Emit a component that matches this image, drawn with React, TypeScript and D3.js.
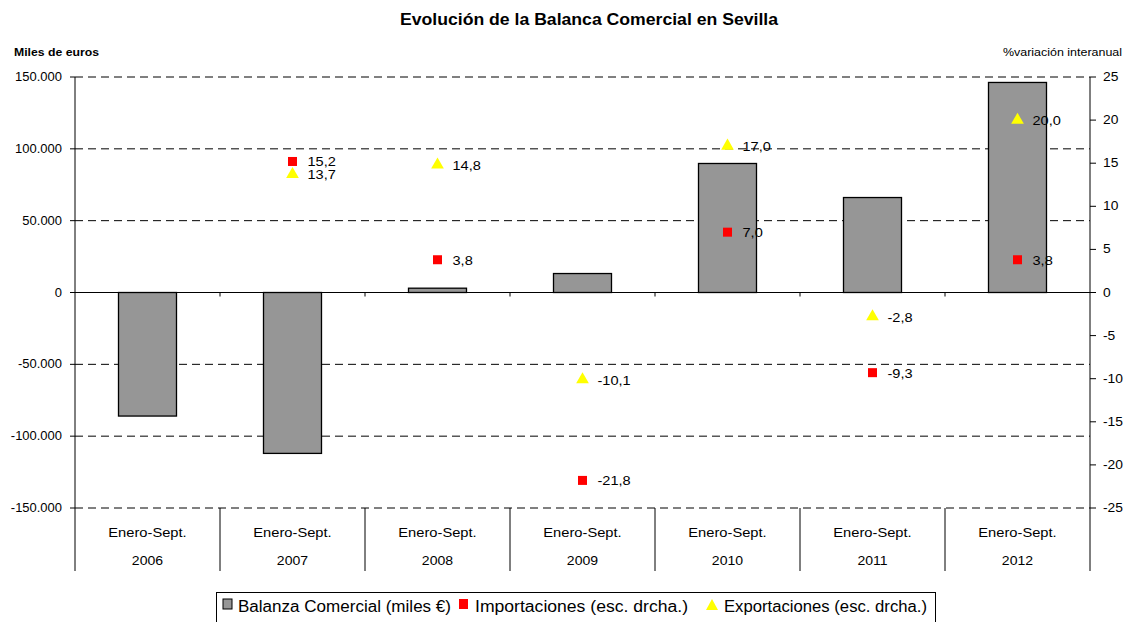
import React, { useEffect, useRef } from 'react';
import * as d3 from 'd3';

const years = ['2006', '2007', '2008', '2009', '2010', '2011', '2012'];
const balanza = [-86000, -112000, 3000, 13200, 89800, 66100, 146200];
const importaciones: (number | null)[] = [null, 15.2, 3.8, -21.8, 7.0, -9.3, 3.8];
const exportaciones: (number | null)[] = [null, 13.7, 14.8, -10.1, 17.0, -2.8, 20.0];
const leftTicks = [150000, 100000, 50000, 0, -50000, -100000, -150000];
const rightTicks = [25, 20, 15, 10, 5, 0, -5, -10, -15, -20, -25];

const fmtLeft = (v: number) => d3.format(',')(v).replace(/,/g, '.').replace('−', '-');
const fmtPct = (v: number) => v.toFixed(1).replace('.', ',');

// widen text horizontally, the reference renders its fonts stretched
const stretch = (sel: any, sx: number) => {
  sel.each(function (this: SVGTextElement) {
    const len = this.getComputedTextLength();
    d3.select(this).attr('textLength', len * sx).attr('lengthAdjust', 'spacingAndGlyphs');
  });
  return sel;
};

const App = () => {
  const svgRef = useRef<SVGSVGElement>(null);

  useEffect(() => {
    const width = 1127;
    const height = 622;
    const left = 75;
    const right = 1090;
    const top = 77;
    const bottom = 508;
    const font = '"Liberation Sans", Arial, sans-serif';

    const svg = d3.select(svgRef.current).attr('width', width).attr('height', height);
    svg.selectAll('*').remove();

    const x = d3.scaleBand().domain(years).range([left, right]);
    const yL = d3.scaleLinear().domain([-150000, 150000]).range([bottom, top]);
    const yR = d3.scaleLinear().domain([-25, 25]).range([bottom, top]);

    // title and axis titles
    svg.append('text')
      .attr('x', 589).attr('y', 25)
      .attr('text-anchor', 'middle')
      .attr('font-family', font).attr('font-size', 16).attr('font-weight', 'bold')
      .attr('textLength', 378).attr('lengthAdjust', 'spacingAndGlyphs')
      .text('Evolución de la Balanca Comercial en Sevilla');

    svg.append('text')
      .attr('x', 14).attr('y', 56)
      .attr('font-family', font).attr('font-size', 11).attr('font-weight', 'bold')
      .attr('textLength', 85).attr('lengthAdjust', 'spacingAndGlyphs')
      .text('Miles de euros');

    svg.append('text')
      .attr('x', 1122).attr('y', 56)
      .attr('text-anchor', 'end')
      .attr('font-family', font).attr('font-size', 11)
      .attr('textLength', 119).attr('lengthAdjust', 'spacingAndGlyphs')
      .text('%variación interanual');

    // gridlines
    svg.append('g')
      .selectAll('line')
      .data(leftTicks.filter(d => d !== 0))
      .enter().append('line')
      .attr('x1', left).attr('x2', right)
      .attr('y1', d => yL(d)).attr('y2', d => yL(d))
      .attr('stroke', '#000').attr('stroke-width', 1)
      .attr('stroke-dasharray', '8,5');

    // bars
    svg.append('g')
      .selectAll('rect')
      .data(balanza)
      .enter().append('rect')
      .attr('x', (d, i) => (x(years[i]) as number) + x.bandwidth() * 0.3)
      .attr('width', x.bandwidth() * 0.4)
      .attr('y', d => yL(Math.max(0, d)))
      .attr('height', d => Math.abs(yL(d) - yL(0)))
      .attr('fill', '#969696')
      .attr('stroke', '#000').attr('stroke-width', 1.3);

    // zero line
    svg.append('line')
      .attr('x1', left).attr('x2', right)
      .attr('y1', yL(0)).attr('y2', yL(0))
      .attr('stroke', '#000').attr('stroke-width', 1);

    svg.append('g')
      .selectAll('line')
      .data(years.slice(1))
      .enter().append('line')
      .attr('x1', d => x(d) as number).attr('x2', d => x(d) as number)
      .attr('y1', yL(0)).attr('y2', yL(0) + 4)
      .attr('stroke', '#000');

    // left axis
    svg.append('line')
      .attr('x1', left).attr('x2', left).attr('y1', top).attr('y2', 571)
      .attr('stroke', '#000');
    const gl = svg.append('g');
    leftTicks.forEach(t => {
      gl.append('line').attr('x1', left - 5).attr('x2', left).attr('y1', yL(t)).attr('y2', yL(t)).attr('stroke', '#000');
      stretch(gl.append('text')
        .attr('x', 62).attr('y', yL(t) + 4)
        .attr('text-anchor', 'end')
        .attr('font-family', font).attr('font-size', 12)
        .text(fmtLeft(t)), 1.08);
    });

    // right axis
    svg.append('line')
      .attr('x1', right).attr('x2', right).attr('y1', top).attr('y2', bottom)
      .attr('stroke', '#000');
    const gr = svg.append('g');
    rightTicks.forEach(t => {
      gr.append('line').attr('x1', right).attr('x2', right + 6).attr('y1', yR(t)).attr('y2', yR(t)).attr('stroke', '#000');
      stretch(gr.append('text')
        .attr('x', right + 13).attr('y', yR(t) + 4)
        .attr('font-family', font).attr('font-size', 12)
        .text(String(t)), 1.15);
    });

    // category separators
    svg.append('g')
      .selectAll('line')
      .data(years.slice(1).concat(['end']))
      .enter().append('line')
      .attr('x1', d => d === 'end' ? right : (x(d) as number))
      .attr('x2', d => d === 'end' ? right : (x(d) as number))
      .attr('y1', bottom).attr('y2', 571)
      .attr('stroke', '#000');

    const gc = svg.append('g');
    years.forEach(yv => {
      const cx = (x(yv) as number) + x.bandwidth() / 2;
      stretch(gc.append('text')
        .attr('x', cx).attr('y', 537)
        .attr('text-anchor', 'middle')
        .attr('font-family', font).attr('font-size', 13)
        .text('Enero-Sept.'), 1.13);
      stretch(gc.append('text')
        .attr('x', cx).attr('y', 565)
        .attr('text-anchor', 'middle')
        .attr('font-family', font).attr('font-size', 13)
        .text(yv), 1.08);
    });

    // importaciones markers
    const gi = svg.append('g');
    importaciones.forEach((v, i) => {
      if (v === null) return;
      const cx = (x(years[i]) as number) + x.bandwidth() / 2;
      gi.append('rect')
        .attr('x', cx - 4.5).attr('y', yR(v) - 4.5)
        .attr('width', 9).attr('height', 9)
        .attr('fill', '#ff0000');
      stretch(gi.append('text')
        .attr('x', cx + 15).attr('y', yR(v) + 5)
        .attr('font-family', font).attr('font-size', 13)
        .text(fmtPct(v)), 1.12);
    });

    // exportaciones markers
    const ge = svg.append('g');
    const tri = d3.symbol().type(d3.symbolTriangle).size(70);
    exportaciones.forEach((v, i) => {
      if (v === null) return;
      const cx = (x(years[i]) as number) + x.bandwidth() / 2;
      ge.append('path')
        .attr('d', tri() as string)
        .attr('transform', `translate(${cx},${yR(v)})`)
        .attr('fill', '#ffff00');
      stretch(ge.append('text')
        .attr('x', cx + 15).attr('y', yR(v) + 5)
        .attr('font-family', font).attr('font-size', 13)
        .text(fmtPct(v)), 1.12);
    });

    // legend
    const lg = svg.append('g');
    lg.append('rect')
      .attr('x', 216.5).attr('y', 592.5).attr('width', 719).attr('height', 40)
      .attr('fill', '#fff').attr('stroke', '#000');
    lg.append('rect')
      .attr('x', 223).attr('y', 599).attr('width', 9).attr('height', 10)
      .attr('fill', '#969696').attr('stroke', '#000');
    lg.append('text')
      .attr('x', 238).attr('y', 612)
      .attr('font-family', font).attr('font-size', 16)
      .attr('textLength', 213).attr('lengthAdjust', 'spacingAndGlyphs')
      .text('Balanza Comercial (miles €)');
    lg.append('rect')
      .attr('x', 459).attr('y', 599).attr('width', 9).attr('height', 10)
      .attr('fill', '#ff0000');
    lg.append('text')
      .attr('x', 475).attr('y', 612)
      .attr('font-family', font).attr('font-size', 16)
      .attr('textLength', 213).attr('lengthAdjust', 'spacingAndGlyphs')
      .text('Importaciones (esc. drcha.)');
    lg.append('path')
      .attr('d', 'M706,610 L712,599 L718,610 Z')
      .attr('fill', '#ffff00');
    lg.append('text')
      .attr('x', 724).attr('y', 612)
      .attr('font-family', font).attr('font-size', 16)
      .attr('textLength', 203).attr('lengthAdjust', 'spacingAndGlyphs')
      .text('Exportaciones (esc. drcha.)');
  }, []);

  return (
    <svg ref={svgRef} style={{ position: 'absolute', left: 0, top: 0 }}></svg>
  );
};

export default App;
